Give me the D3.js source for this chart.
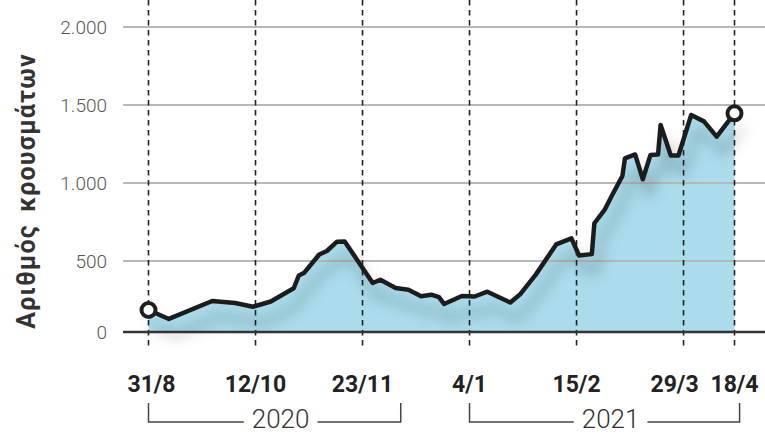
<!DOCTYPE html>
<html><head><meta charset="utf-8">
<script src="https://cdn.jsdelivr.net/npm/d3@7"></script>
<style>
html,body{margin:0;padding:0;background:#fff;}
svg{display:block;}
</style></head>
<body>
<svg id="chart" width="765" height="436"></svg>
<script>
// ---- data ----
const dates = ["2020-08-31","2020-09-08","2020-09-25","2020-10-04","2020-10-11","2020-10-18","2020-10-27","2020-10-29","2020-10-31","2020-11-06","2020-11-09","2020-11-13","2020-11-16","2020-11-27","2020-11-30","2020-12-06","2020-12-11","2020-12-16","2020-12-20","2020-12-23","2020-12-25","2021-01-01","2021-01-06","2021-01-11","2021-01-20","2021-01-24","2021-01-30","2021-02-07","2021-02-13","2021-02-16","2021-02-21","2021-02-22","2021-02-26","2021-03-01","2021-03-05","2021-03-06","2021-03-10","2021-03-13","2021-03-16","2021-03-19","2021-03-20","2021-03-24","2021-03-27","2021-04-01","2021-04-06","2021-04-11","2021-04-18"];
const cases = [155,92,218,204,178,215,308,398,415,542,564,624,625,345,368,310,298,252,263,246,197,254,250,284,208,268,404,606,645,535,544,742,827,923,1045,1158,1183,1024,1179,1183,1372,1176,1176,1436,1395,1297,1447];
const yTicks = [0,500,1000,1500,2000];
const tickDates = ["2020-08-31","2020-10-12","2020-11-23","2021-01-04","2021-02-15","2021-03-29","2021-04-18"];
const tickLabels = ["31/8","12/10","23/11","4/1","15/2","29/3","18/4"];
const yearLabels = ["2020","2021"];
const yearFrom = ["2020-08-31","2021-01-04"];
const yearTo = ["2020-12-08","2021-04-20"];
const yTitle = "Αριθμός κρουσμάτων";

// ---- setup ----
const parse = d3.timeParse("%Y-%m-%d");
const data = dates.map((d,i)=>({date:parse(d), v:cases[i]}));
const svg = d3.select("#chart");
const x = d3.scaleTime().domain([parse("2020-08-31"), parse("2021-04-18")]).range([148.5, 734.5]);
const y = d3.scaleLinear().domain([0,500,2000]).range([332,261,27]);
const fmt = d3.formatLocale({decimal:",",thousands:".",grouping:[3],currency:["","€"]}).format(",");

const defs = svg.append("defs");
const f = defs.append("filter").attr("id","shadow").attr("x","-20%").attr("y","-20%").attr("width","140%").attr("height","160%");
f.append("feGaussianBlur").attr("in","SourceAlpha").attr("stdDeviation",7).attr("result","b");
f.append("feOffset").attr("in","b").attr("dx",6).attr("dy",16).attr("result","o");
f.append("feFlood").attr("flood-color","#000").attr("flood-opacity",0.3);
f.append("feComposite").attr("in2","o").attr("operator","in").attr("result","s");
const m = f.append("feMerge"); m.append("feMergeNode").attr("in","s"); m.append("feMergeNode").attr("in","SourceGraphic");

// area
svg.append("path").datum(data)
  .attr("d", d3.area().x(d=>x(d.date)).y0(y(0)).y1(d=>y(d.v)))
  .attr("fill","#aadcec");

// gridlines
svg.append("g").selectAll("line").data(yTicks.filter(t=>t>0)).join("line")
  .attr("x1",123).attr("x2",765).attr("y1",d=>y(d)).attr("y2",d=>y(d))
  .attr("stroke","#b8b8b8").attr("stroke-width",1.8);

// y tick labels
svg.append("g").selectAll("text").data(yTicks).join("text")
  .attr("x",107).attr("y",d=>y(d)).attr("dy","0.36em").attr("text-anchor","end")
  .attr("font-family","Roboto, sans-serif").attr("font-weight",300).attr("font-size",19)
  .attr("fill","#555").text(d=>fmt(d));

// y title
svg.append("text").attr("transform",`translate(35,${(57+325)/2}) rotate(-90)`)
  .attr("text-anchor","middle").attr("font-family","Roboto, sans-serif").attr("font-weight",700)
  .attr("font-size",25).attr("letter-spacing",1.2).attr("word-spacing",5)
  .attr("fill","#333").text(yTitle);

// dashed verticals
svg.append("g").selectAll("line").data(tickDates).join("line")
  .attr("x1",d=>x(parse(d))).attr("x2",d=>x(parse(d))).attr("y1",0).attr("y2",350)
  .attr("stroke","#222").attr("stroke-width",1.6).attr("stroke-dasharray","5.5,4.5");

// line
svg.append("path").datum(data)
  .attr("d", d3.line().x(d=>x(d.date)).y(d=>y(d.v)))
  .attr("fill","none").attr("stroke","#1e1e1e").attr("stroke-width",4.5)
  .attr("stroke-linejoin","round").attr("stroke-linecap","round")
  .attr("filter","url(#shadow)");

// baseline
svg.append("line").attr("x1",123).attr("x2",765).attr("y1",y(0)).attr("y2",y(0))
  .attr("stroke","#333").attr("stroke-width",2.5);

// end markers
svg.append("g").selectAll("circle").data([data[0], data[data.length-1]]).join("circle")
  .attr("cx",d=>x(d.date)).attr("cy",d=>y(d.v)).attr("r",7)
  .attr("fill","#fff").attr("stroke","#1e1e1e").attr("stroke-width",4);

// x labels
svg.append("g").selectAll("text").data(tickDates).join("text")
  .attr("x",d=>x(parse(d))).attr("y",392).attr("text-anchor","middle")
  .attr("dx",(d,i)=> tickLabels[i]==="29/3" ? -9 : (tickLabels[i]==="31/8" ? 3 : 0))
  .attr("font-family","Roboto, sans-serif").attr("font-weight",700).attr("font-size",23)
  .attr("fill","#222").text((d,i)=>tickLabels[i]);

// year brackets
yearLabels.forEach((lab,i)=>{
  const x0 = x(parse(yearFrom[i])), x1 = x(parse(yearTo[i]));
  const cx = (x0+x1)/2 + 6;
  const t = svg.append("text").attr("x",cx).attr("y",428).attr("text-anchor","middle")
    .attr("font-family","Roboto, sans-serif").attr("font-weight",300).attr("font-size",26)
    .attr("fill","#333").text(lab);
  const w = t.node().getComputedTextLength();
  const gap = 8;
  svg.append("path")
    .attr("d",`M${x0},403V422H${cx-w/2-gap}M${cx+w/2+gap},422H${x1}V403`)
    .attr("fill","none").attr("stroke","#444").attr("stroke-width",1.5);
});
</script>
</body></html>
